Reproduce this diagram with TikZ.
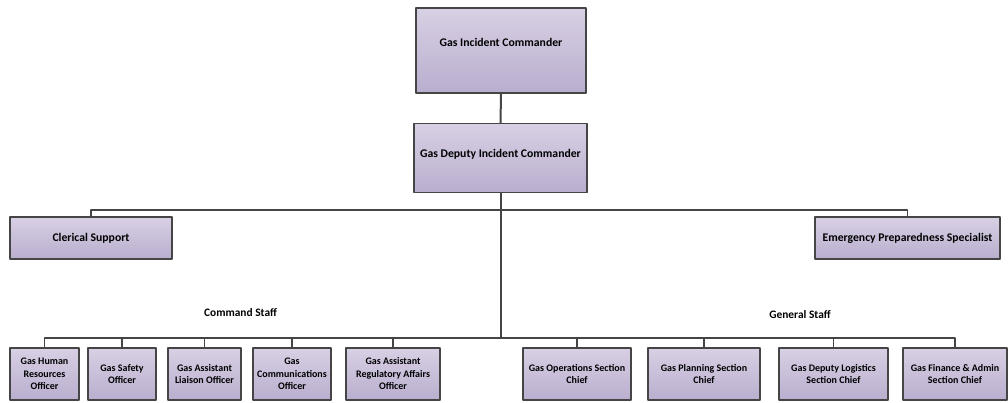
\documentclass[tikz,border=0pt]{standalone}
\usepackage{fontspec}
\setmainfont{Carlito}
\definecolor{boxtop}{HTML}{D8D0E4}
\definecolor{boxbot}{HTML}{B9AECE}
\definecolor{edge}{HTML}{454545}
\begin{document}
\begin{tikzpicture}[x=1pt, y=-1pt, line join=round,
    orgbox/.style={draw=edge, line width=1.6pt, top color=boxtop, bottom color=boxbot,
        inner sep=1pt, outer sep=0pt, align=center, font=\bfseries\fontsize{11.7}{13}\selectfont},
    staffbox/.style={orgbox, minimum height=52, font=\bfseries\fontsize{10}{12.5}\selectfont},
    link/.style={draw=edge, line width=1.2pt}]

        \useasboundingbox (0,0) rectangle (1008,402);

        % Command boxes
        \node[orgbox, minimum width=170, minimum height=85] (gic) at (501,50.5) {Gas Incident Commander\\[4pt]};
        \node[orgbox, minimum width=173, minimum height=69] (gdic) at (500.5,158) {Gas Deputy Incident Commander\\[-3pt]};
        \node[orgbox, minimum width=162, minimum height=42] (clerk) at (91,238) {Clerical Support};
        \node[orgbox, minimum width=185, minimum height=42] (eps) at (907.5,238) {Emergency Preparedness Specialist};

        % Staff boxes
        \foreach \name/\x/\w/\txt in {hr/44.5/69/{Gas Human\\Resources\\Officer},
                safety/122/68/{Gas Safety\\Officer},
                liaison/204.5/73/{Gas Assistant\\Liaison Officer},
                comms/292/78/{Gas\\Communications\\Officer},
                reg/393/94/{Gas Assistant\\Regulatory Affairs\\Officer},
                ops/577/108/{Gas Operations Section\\Chief},
                plan/704/112/{Gas Planning Section\\Chief},
                logist/833.5/109/{Gas Deputy Logistics\\Section Chief},
                fin/955/104/{Gas Finance \& Admin\\Section Chief}} {
            \node[staffbox, minimum width=\w] (\name) at (\x,374) {\txt};
        }

        % Bus points
        \coordinate (upbus) at (500.5,210);
        \coordinate (lowbus) at (500.5,338);

        % Connectors
        \draw[link, line width=2pt] (gic.south) -- (gdic.north);
        \draw[link, line width=2pt] (gdic.south) -- (lowbus);
        \draw[link] (clerk.north) |- (upbus) -| (eps.north);
        \draw[link] (hr.north) |- (lowbus) -| (fin.north);
        \foreach \name in {safety, liaison, comms, reg, ops, plan, logist} {
            \draw[link] (\name.north) -- (\name.north |- lowbus);
        }

        % Group labels
        \node[font=\bfseries\fontsize{11.4}{13}\selectfont] (cmdlabel) at (240.5,313) {Command Staff};
        \node[font=\bfseries\fontsize{11.4}{13}\selectfont] (genlabel) at (800,315) {General Staff};
\end{tikzpicture}
\end{document}
